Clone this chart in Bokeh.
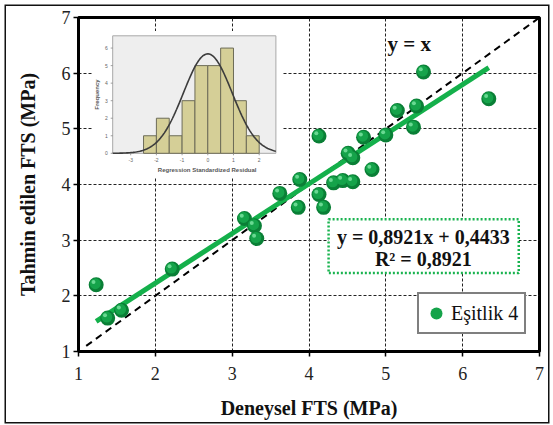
import math
from bokeh.plotting import figure
from bokeh.models import (Range1d, Legend, LegendItem, Label, BoxAnnotation,
                          FixedTicker, ColumnDataSource)
from bokeh.transform import dodge
from bokeh.core.properties import value
from bokeh.embed import file_html
from bokeh.resources import INLINE

# ---------------- data ----------------
x_obs = [1.23, 1.38, 1.56, 2.22, 3.16, 3.29, 3.32, 3.62, 3.86, 3.88, 4.13, 4.13, 4.19,
         4.32, 4.44, 4.57, 4.51, 4.57, 4.71, 4.82, 5.00, 5.15, 5.36, 5.40, 5.49, 6.34]
y_pred = [2.20, 1.60, 1.74, 2.48, 3.39, 3.26, 3.03, 3.84, 3.59, 4.09, 4.87, 3.82, 3.59,
          4.03, 4.07, 4.05, 4.56, 4.48, 4.85, 4.27, 4.89, 5.33, 5.03, 5.41, 6.02, 5.54]
slope, intercept, r_squared = 0.8921, 0.4433, 0.8921
identity_x = [1.1, 7.0]
axis_ticks = [1, 2, 3, 4, 5, 6, 7]

# residual histogram (inset)
bin_left = [-2.5, -2.0, -1.5, -1.0, -0.5, 0.0, 0.5, 1.0, 1.5]
bin_count = [1, 2, 1, 3, 5, 5, 6, 3, 1]
bin_width = 0.5
resid_mean, resid_sd = 0.0, 0.95
hist_xticks = [-3, -2, -1, 0, 1, 2]
hist_yticks = [0, 1, 2, 3, 4, 5, 6]
HX0, HX1, HY0, HY1 = -3.7, 2.65, 0.0, 6.7

SERIF = "Liberation Serif"
GREEN = "#14b04b"

# ---------------- figure ----------------
FW, FH = 461, 334
p = figure(x_range=Range1d(1, 7), y_range=Range1d(1, 7),
           frame_width=FW, frame_height=FH,
           min_border_left=72, min_border_right=9, min_border_top=11, min_border_bottom=71,
           output_backend="svg", toolbar_location=None,
           styles={"margin": "6px 0 0 6px", "box-shadow": "0 0 0 1.5px #111111"})
p.background_fill_color = "white"
p.border_fill_color = "white"
p.outline_line_color = "black"
p.outline_line_width = 3

for ax in (p.xaxis[0], p.yaxis[0]):
    ax.ticker = FixedTicker(ticks=axis_ticks)
    ax.axis_line_width = 3
    ax.axis_line_color = "black"
    ax.major_tick_out = 5
    ax.major_tick_in = 0
    ax.major_tick_line_width = 1.5
    ax.minor_tick_line_color = None
    ax.major_label_text_font = SERIF
    ax.major_label_text_font_size = "18px"
    ax.major_label_text_color = "#222222"
    ax.axis_label_text_font = SERIF
    ax.axis_label_text_font_style = "bold"
    ax.axis_label_text_font_size = "20px"
    ax.axis_label_text_color = "#111111"
p.xaxis.axis_label = "Deneysel FTS (MPa)"
p.yaxis.axis_label = "Tahmin edilen FTS (MPa)"
p.xaxis.major_label_standoff = 10
p.xaxis.axis_label_standoff = 14
p.yaxis.major_label_standoff = 3
p.yaxis.axis_label_standoff = 20

for g in (p.xgrid[0], p.ygrid[0]):
    g.ticker = FixedTicker(ticks=axis_ticks)
    g.grid_line_color = "#222222"
    g.grid_line_dash = "3 2"
    g.grid_line_width = 1

# ---------------- inset (residual histogram) ----------------
p.quad(left=[1.178], right=[3.652], bottom=[4.119], top=[6.758],
       fill_color="white", line_color=None)

in_l, in_r, in_t, in_b = 34.2, 197.4, 18.3, 135.8   # inset box in frame pixels
sx = (in_r - in_l) / (HX1 - HX0)
sy = (in_b - in_t) / (HY1 - HY0)
hx_start = HX0 - in_l / sx
hy_start = HY0 - (FH - in_b) / sy
p.extra_x_ranges = {"hx": Range1d(hx_start, hx_start + FW / sx)}
p.extra_y_ranges = {"hy": Range1d(hy_start, hy_start + FH / sy)}
kw = dict(x_range_name="hx", y_range_name="hy")

p.quad(left=[HX0], right=[HX1], bottom=[HY0], top=[HY1],
       fill_color="#eeeeee", line_color="#a8a8a8", line_width=1, **kw)
p.quad(left=bin_left, right=[b + bin_width for b in bin_left],
       bottom=[0] * len(bin_count), top=bin_count,
       fill_color="#d5cf97", line_color="#6d6c58", line_width=1, **kw)
n_tot = sum(bin_count)
cx = [HX0 + i * (HX1 - HX0) / 120 for i in range(121)]
cy = [n_tot * bin_width / (resid_sd * math.sqrt(2 * math.pi)) *
      math.exp(-0.5 * ((v - resid_mean) / resid_sd) ** 2) for v in cx]
p.line(cx, cy, line_color="#3c3c3c", line_width=1.6, **kw)

tick_len_x = 2.0 / sy
tick_len_y = 2.0 / sx
p.segment(x0=hist_xticks, x1=hist_xticks, y0=[HY0] * 6, y1=[HY0 - tick_len_x] * 6,
          line_color="#888888", line_width=0.8, **kw)
p.segment(x0=[HX0] * 7, x1=[HX0 - tick_len_y] * 7, y0=hist_yticks, y1=hist_yticks,
          line_color="#888888", line_width=0.8, **kw)
p.text(x=hist_xticks, y=[HY0] * 6, text=[str(t) for t in hist_xticks],
       y_offset=7, text_align="center", text_baseline="middle",
       text_font=value("Arial"), text_font_size="5px", text_color="#666666", **kw)
p.text(x=[HX0] * 7, y=hist_yticks, text=[str(t) for t in hist_yticks],
       x_offset=-5, text_align="right", text_baseline="middle",
       text_font=value("Arial"), text_font_size="5px", text_color="#666666", **kw)
p.text(x=[(HX0 + HX1) / 2 + 0.5], y=[HY0], text=["Regression Standardized Residual"],
       y_offset=17, text_align="center", text_baseline="middle",
       text_font=value("Arial"), text_font_style="bold", text_font_size="6px",
       text_color="#555555", **kw)
p.text(x=[HX0], y=[(HY0 + HY1) / 2], text=["Frequency"], angle=math.pi / 2,
       x_offset=-16, text_align="center", text_baseline="middle",
       text_font=value("Arial"), text_font_style="bold", text_font_size="6px",
       text_color="#555555", **kw)

# ---------------- main series ----------------
p.line(identity_x, identity_x, line_color="black", line_width=2, line_dash="7 5")
xf = [min(x_obs), max(x_obs)]
p.line(xf, [slope * v + intercept for v in xf], line_color=GREEN, line_width=5)

src = ColumnDataSource(dict(x=x_obs, y=y_pred))
g1 = p.scatter("x", "y", source=src, size=15, fill_color="#0a7f36", line_color=None)
g2 = p.scatter(dodge("x", -0.012), dodge("y", 0.018), source=src, size=11,
               fill_color="#15a34a", line_color=None)
g3 = p.scatter(dodge("x", -0.035), dodge("y", 0.05), source=src, size=4,
               fill_color="#7ee6a4", fill_alpha=0.8, line_color=None)

p.add_layout(Label(x=5.306, y=6.53, text="y = x", text_align="center",
                   text_baseline="middle", text_font=SERIF, text_font_style="bold",
                   text_font_size="21px", text_color="#111111"))

p.add_layout(BoxAnnotation(left=4.255, right=6.73, bottom=2.408, top=3.377,
                           fill_color="white", fill_alpha=1, line_color="#19b34f",
                           line_alpha=1, line_dash="2 2", line_width=2.5))
eq_text = f"y = {slope:.4f}x + {intercept:.4f}".replace(".", ",")
r2_text = f"R² = {r_squared:.4f}".replace(".", ",")
p.add_layout(Label(x=5.488, y=3.065, text=eq_text,
                   text_align="center", text_baseline="middle", text_font=SERIF,
                   text_font_style="bold", text_font_size="20px", text_color="#111111"))
p.add_layout(Label(x=5.488, y=2.659, text=r2_text,
                   text_align="center", text_baseline="middle", text_font=SERIF,
                   text_font_style="bold", text_font_size="20px", text_color="#111111"))

legend = Legend(items=[LegendItem(label="Eşitlik 4", renderers=[g2])],
                location=(339, 17), border_line_color="black", border_line_width=2,
                padding=2, margin=0, spacing=0, label_standoff=0, label_width=71,
                glyph_width=30, glyph_height=34, label_height=20,
                label_text_font=SERIF, label_text_font_size="20px",
                label_text_color="#111111", background_fill_alpha=1)
p.add_layout(legend)

open("out.html", "w").write(file_html(p, INLINE))
